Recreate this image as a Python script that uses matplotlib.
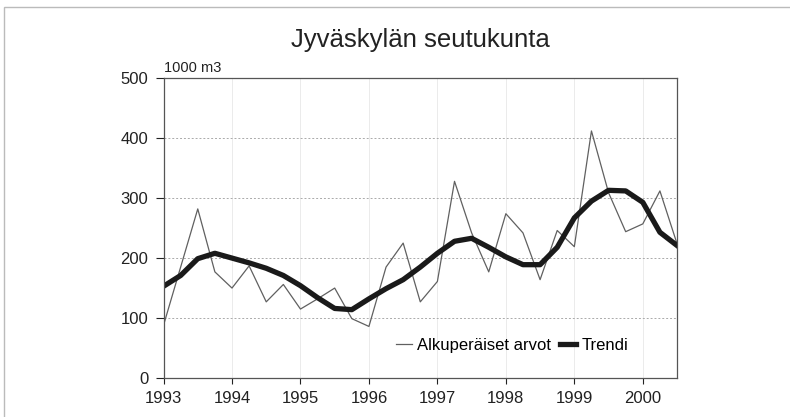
import numpy as np
import matplotlib
matplotlib.use('Agg')
import matplotlib.pyplot as plt
from matplotlib.patches import Rectangle

plt.rcParams['font.family'] = ['Liberation Sans', 'DejaVu Sans']

# quarterly values, 1993 Q1 .. 2000 Q3 (1000 m3)
raw = [88, 185, 282, 177, 150, 187, 127, 156, 115, 132, 150, 99, 86, 185, 225, 127,
       161, 328, 242, 177, 274, 242, 164, 246, 219, 412, 309, 244, 257, 312, 224]
trend = [153, 171, 199, 208, 200, 192, 183, 171, 154, 134, 116, 114, 132, 149, 164, 185,
         208, 228, 233, 218, 202, 189, 189, 218, 267, 295, 313, 312, 293, 243, 221]
start_year = 1993
year_ticks = [1993, 1994, 1995, 1996, 1997, 1998, 1999, 2000]
y_ticks = [0, 100, 200, 300, 400, 500]

x = start_year + 0.25 * np.arange(len(raw))

fig = plt.figure(figsize=(7.9, 4.17), dpi=100)
# scanned page border
fig.patches.append(Rectangle((0.005, -0.01), 1.2, 0.993, transform=fig.transFigure,
                             fill=False, edgecolor='#bbbbbb', linewidth=1.0))

ax = fig.add_axes([0.207, 0.0935, 0.650, 0.719])
ax.plot(x, raw, color='#606060', linewidth=0.9, label='Alkuperäiset arvot')
ax.plot(x, trend, color='#1a1a1a', linewidth=3.8, label='Trendi', solid_joinstyle='round')

ax.set_xlim(start_year, x[-1])
ax.set_ylim(0, 500)
ax.set_xticks(year_ticks)
ax.set_yticks(y_ticks)
ax.tick_params(axis='both', labelsize=12, colors='#222222', width=0.8, direction='out')
ax.tick_params(axis='y', length=6, pad=5)
ax.tick_params(axis='x', length=4, pad=5)

ax.grid(axis='y', color='#aaaaaa', linestyle=(0, (2, 2)), linewidth=0.7)
ax.grid(axis='x', color='#e8e8e8', linestyle='-', linewidth=0.6)
for s in ax.spines.values():
    s.set_color('#555555')
    s.set_linewidth(0.9)

ax.text(0.0, 1.012, '1000 m3', transform=ax.transAxes, fontsize=10.5,
        ha='left', va='bottom', color='#222222')
fig.text(0.532, 0.905, 'Jyväskylän seutukunta', fontsize=18.5, ha='center',
         va='center', color='#222222')

leg = ax.legend(loc='center right', bbox_to_anchor=(0.905, 0.11), ncol=2, frameon=False,
                fontsize=12, handlelength=1.0, handletextpad=0.3, columnspacing=0.5,
                borderpad=0, borderaxespad=0)

fig.savefig('out.png', dpi=100)
